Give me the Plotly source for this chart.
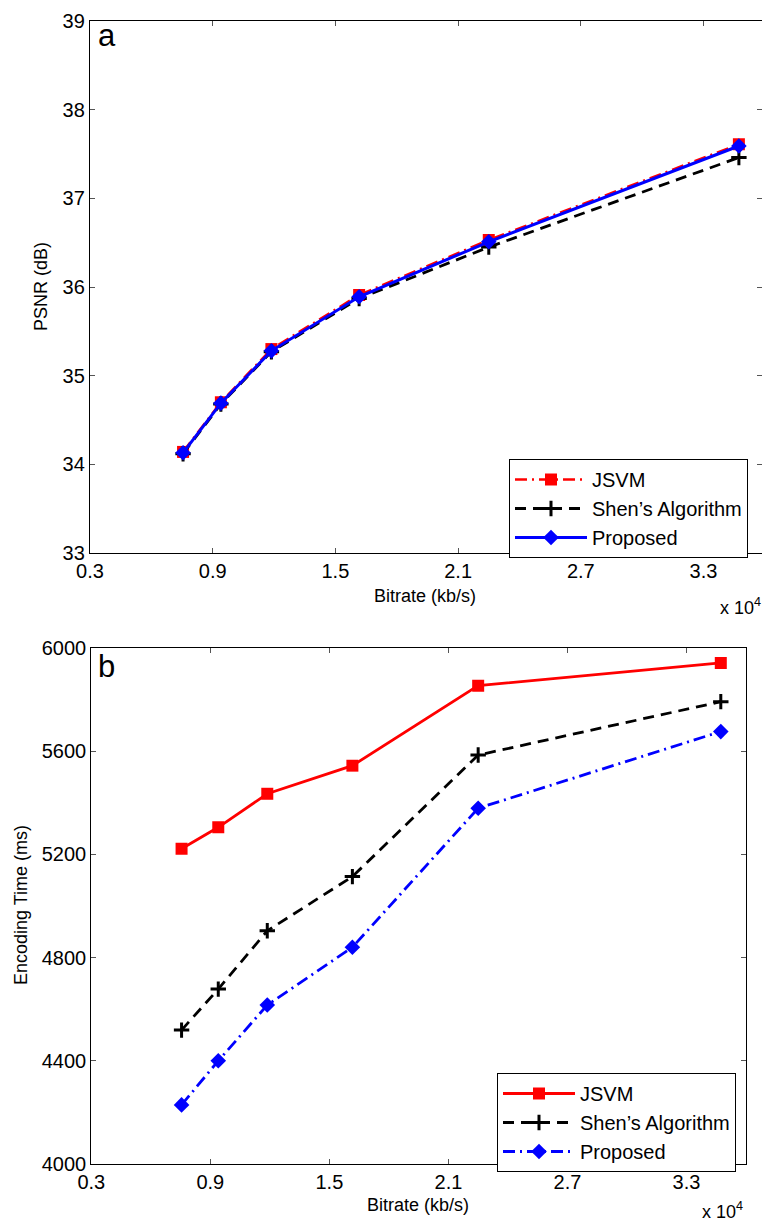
import plotly.graph_objects as go

# ---- data ----
bitrate = [7550, 9400, 11870, 16160, 22500, 34730]

psnr_jsvm = [34.14, 34.70, 35.30, 35.91, 36.53, 37.61]
psnr_shen = [34.12, 34.68, 35.27, 35.87, 36.45, 37.46]
psnr_prop = [34.13, 34.69, 35.28, 35.89, 36.51, 37.59]

time_jsvm = [5222, 5305, 5435, 5544, 5854, 5942]
time_shen = [4519, 4678, 4904, 5114, 5585, 5792]
time_prop = [4229, 4400, 4616, 4840, 5379, 5676]

names = ["JSVM", "Shen\u2019s Algorithm", "Proposed"]
x_tickvals = [3000, 9000, 15000, 21000, 27000, 33000]
x_ticktext = ["0.3", "0.9", "1.5", "2.1", "2.7", "3.3"]
psnr_ticks = [33, 34, 35, 36, 37, 38, 39]
time_ticks = [4000, 4400, 4800, 5200, 5600, 6000]

FONT = "Liberation Sans, Arial, Helvetica, sans-serif"
W, H = 762, 1222
DASH = "11px,7px"
DASHDOT = "12px,5px,2px,5px"

fig = go.Figure()

# ---- top panel ----
fig.add_trace(go.Scatter(x=bitrate, y=psnr_jsvm, name=names[0], mode="lines+markers",
                         line=dict(color="#ff0000", width=2.5, dash=DASHDOT),
                         marker=dict(symbol="square", size=12, color="#ff0000"),
                         xaxis="x", yaxis="y", legend="legend"))
fig.add_trace(go.Scatter(x=bitrate, y=psnr_shen, name=names[1], mode="lines+markers",
                         line=dict(color="#000000", width=2.8, dash=DASH),
                         marker=dict(symbol="cross-thin", size=11, color="#000000",
                                     line=dict(color="#000000", width=3)),
                         xaxis="x", yaxis="y", legend="legend"))
fig.add_trace(go.Scatter(x=bitrate, y=psnr_prop, name=names[2], mode="lines+markers",
                         line=dict(color="#0000ff", width=3),
                         marker=dict(symbol="diamond", size=12, color="#0000ff"),
                         xaxis="x", yaxis="y", legend="legend"))

# ---- bottom panel ----
fig.add_trace(go.Scatter(x=bitrate, y=time_jsvm, name=names[0], mode="lines+markers",
                         line=dict(color="#ff0000", width=2.8),
                         marker=dict(symbol="square", size=12, color="#ff0000"),
                         xaxis="x2", yaxis="y2", legend="legend2"))
fig.add_trace(go.Scatter(x=bitrate, y=time_shen, name=names[1], mode="lines+markers",
                         line=dict(color="#000000", width=2.8, dash=DASH),
                         marker=dict(symbol="cross-thin", size=11, color="#000000",
                                     line=dict(color="#000000", width=3)),
                         xaxis="x2", yaxis="y2", legend="legend2"))
fig.add_trace(go.Scatter(x=bitrate, y=time_prop, name=names[2], mode="lines+markers",
                         line=dict(color="#0000ff", width=2.8, dash=DASHDOT),
                         marker=dict(symbol="diamond", size=12, color="#0000ff"),
                         xaxis="x2", yaxis="y2", legend="legend2"))

axis_common = dict(showline=True, linecolor="black", linewidth=1.3, mirror="ticks",
                   ticks="inside", ticklen=5, tickcolor="#555555", tickwidth=1,
                   showgrid=False, zeroline=False,
                   tickfont=dict(family=FONT, size=20, color="black"))

top_y0, top_y1 = 1 - 553 / H, 1 - 21 / H
bot_y0, bot_y1 = 1 - 1164 / H, 1 - 648 / H

legend_common = dict(xanchor="left", yanchor="top", bgcolor="white",
                     bordercolor="black", borderwidth=1,
                     font=dict(family=FONT, size=20, color="black"),
                     itemwidth=72, tracegroupgap=0)

fig.update_layout(
    width=W, height=H,
    margin=dict(l=0, r=0, t=0, b=0, autoexpand=False),
    paper_bgcolor="white", plot_bgcolor="white",
    font=dict(family=FONT, color="black"),
    xaxis=dict(domain=[90 / W, 1.0], range=[3000, 35860], anchor="y",
               tickvals=x_tickvals, ticktext=x_ticktext, **axis_common),
    yaxis=dict(domain=[top_y0, top_y1], range=[33, 39], anchor="x",
               tickvals=psnr_ticks, **axis_common),
    xaxis2=dict(domain=[91.3 / W, 746 / W], range=[3000, 36000], anchor="y2",
                tickvals=x_tickvals, ticktext=x_ticktext, **axis_common),
    yaxis2=dict(domain=[bot_y0, bot_y1], range=[4000, 6000], anchor="x2",
                tickvals=time_ticks, **axis_common),
    legend=dict(x=509 / W, y=1 - 459 / H, **legend_common),
    legend2=dict(x=497 / W, y=1 - 1073 / H, **legend_common),
    showlegend=True,
)

ann = [
    dict(text="a", x=96 / W, y=1 - 36 / H, xanchor="left", yanchor="middle",
         font=dict(size=31)),
    dict(text="b", x=96 / W, y=1 - 666 / H, xanchor="left", yanchor="middle",
         font=dict(size=31)),
    dict(text="PSNR (dB)", x=41 / W, y=1 - 287 / H, textangle=-90,
         xanchor="center", yanchor="middle", font=dict(size=18)),
    dict(text="Bitrate (kb/s)", x=425 / W, y=1 - 596 / H,
         xanchor="center", yanchor="middle", font=dict(size=18)),
    dict(text="x 10<sup>4</sup>", x=718 / W, y=1 - 606 / H,
         xanchor="left", yanchor="middle", font=dict(size=18)),
    dict(text="Encoding Time (ms)", x=21 / W, y=1 - 905 / H, textangle=-90,
         xanchor="center", yanchor="middle", font=dict(size=18)),
    dict(text="Bitrate (kb/s)", x=418 / W, y=1 - 1205 / H,
         xanchor="center", yanchor="middle", font=dict(size=18)),
    dict(text="x 10<sup>4</sup>", x=700 / W, y=1 - 1210 / H,
         xanchor="left", yanchor="middle", font=dict(size=18)),
]
for a in ann:
    a.update(xref="paper", yref="paper", showarrow=False)
    a["font"] = dict(family=FONT, color="black", **a["font"])
fig.update_layout(annotations=ann)

fig.write_html("out.html",
               config=dict(displayModeBar=False),
               post_script="document.body.style.margin='0px';"
                           "document.body.style.overflow='hidden';")
